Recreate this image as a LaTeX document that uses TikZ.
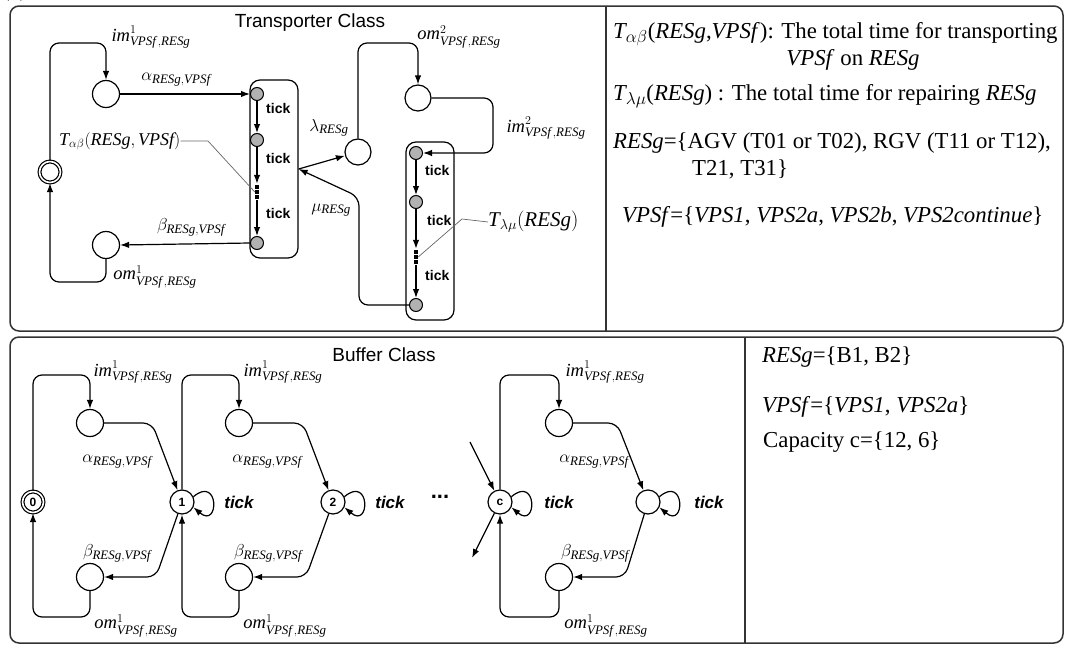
\documentclass[tikz,border=0pt]{standalone}
\usepackage{fontspec}
\usepackage{amsmath}
\setmainfont{Liberation Serif}
\setsansfont{Liberation Sans}
\usetikzlibrary{arrows.meta,calc}
\newcommand\Vf{\textit{VPSf}}
\newcommand\Rg{\textit{RESg}}
\newcommand\IMl[1]{$\textit{im}^{#1}_{\Vf\,,\Rg}$}
\newcommand\OMl[1]{$\textit{om}^{#1}_{\Vf\,,\Rg}$}
\newcommand\ALl{$\alpha_{\Rg,\Vf}$}
\newcommand\BEl{$\beta_{\Rg,\Vf}$}
\newcommand\selfloop[1]{\draw[conn] (#1.25) .. controls +(26,-22) and +(26,22) .. (#1.-25);}
\newcommand\sqdots[1]{\foreach \k in {-5,0,5} \fill ($(#1)+(-1.6,\k-1.6)$) rectangle +(3.2,3.2);}
\tikzset{
  panel/.style={draw=black!80, line width=1.5pt, rounded corners=9pt},
  divider/.style={draw=black!80, line width=1.5pt},
  conn/.style={line width=1.2pt, -{Latex[length=9pt,width=6.5pt]}},
  rc/.style={rounded corners=9pt},
  place/.style={circle, draw, line width=1.2pt, minimum size=27pt, inner sep=0pt, fill=white},
  gdot/.style={circle, draw, line width=1pt, fill=black!30, minimum size=13pt, inner sep=0pt},
  state/.style={circle, draw, line width=1.2pt, minimum size=24pt, inner sep=0pt, fill=white,
    font=\sffamily\bfseries\fontsize{12}{12}\selectfont},
  initst/.style={state, double, double distance=1.6pt, minimum size=21pt},
  chainbox/.style={draw, line width=1.2pt, rounded corners=10pt, minimum width=48pt, minimum height=178pt, inner sep=0pt},
  vd/.style={minimum width=4pt, minimum height=16pt, inner sep=0pt},
  lab/.style={font=\fontsize{18.5}{21}\selectfont, inner sep=0pt},
  ticklab/.style={font=\sffamily\bfseries\fontsize{14}{14}\selectfont, inner sep=0pt},
  btick/.style={font=\sffamily\bfseries\itshape\fontsize{17}{17}\selectfont, inner sep=0pt},
  titlelab/.style={font=\sffamily\fontsize{19}{19}\selectfont, inner sep=0pt},
  txt/.style={font=\fontsize{22.8}{26}\selectfont, inner sep=0pt},
  leader/.style={draw=black!60, line width=0.7pt}
}
\begin{document}
\begin{tikzpicture}[x=1pt,y=-1pt]
\useasboundingbox (0,0) rectangle (1065,645);
\begin{scope}
\clip (0,0) rectangle (1065,645);
\node[txt, anchor=base west] (fig) at (2,-3) {(a)};
\end{scope}
% panels
\draw[panel] (10,6) rectangle (1063,331);
\draw[divider] (606,6) -- (606,331);
\draw[panel] (10,337) rectangle (1063,643);
\draw[divider] (745,337) -- (745,643);
% ================= Transporter class =================
\node[titlelab] (tt) at (310,23) {Transporter Class};
\node[initst] (I) at (50,172) {};
\node[place] (P1) at (106,94) {};
\node[place] (P2) at (106,245) {};
\node[chainbox] (A) at (274,169) {};
\node[gdot] (g1) at (257,94) {};
\node[gdot] (g2) at (257,140) {};
\node[vd] (v1) at (257,192) {};
\node[gdot] (g4) at (257,243) {};
\sqdots{v1}
\draw[conn] (g1) -- (g2);
\draw[conn] (g2) -- (v1.north);
\draw[conn] (v1.south) -- (g4);
\node[ticklab, anchor=west] at (266,108) {tick};
\node[ticklab, anchor=west] at (266,158) {tick};
\node[ticklab, anchor=west] at (266,213) {tick};
\draw[conn, rc] (I.north) |- (106,43) -- (P1.north);
\draw[conn] (P1.east) -- (g1.west);
\draw[conn] (g4.west) -- (P2.east);
\draw[conn, rc] (P2.south) |- (50,282) -- (I.south);
\node[lab] (lim1) at (151,37) {\IMl{1}};
\node[lab] (lal) at (176,80) {\ALl};
\node[lab] (lbe) at (191,227) {\BEl};
\node[lab] (lom1) at (155,277) {\OMl{1}};
\node[lab, font=\fontsize{18}{20}\selectfont, anchor=west] (Tab) at (59,141) {$\textit{T}_{\alpha\beta}(\Rg,\Vf)$};
\draw[leader] (Tab.east) -- (208,141) -- (v1.west);
% repair part
\node[place, minimum size=26pt] (L) at (358,152) {};
\node[place, minimum size=26pt] (Q) at (418,98) {};
\node[chainbox] (B) at (430,231) {};
\node[gdot] (r1) at (416,153) {};
\node[gdot] (r2) at (416,202) {};
\node[vd] (v2) at (416,257) {};
\node[gdot] (r4) at (416,305) {};
\sqdots{v2}
\draw[conn] (r1) -- (r2);
\draw[conn] (r2) -- (v2.north);
\draw[conn] (v2.south) -- (r4);
\node[ticklab, anchor=west] at (425,170) {tick};
\node[ticklab, anchor=west] at (427,220) {tick};
\node[ticklab, anchor=west] at (425,275) {tick};
\draw[conn] (A.east) -- (L);
\draw[conn, rc] (r4.west) -- (359,305) -- (359,197) -- (A.east);
\draw[conn, rc] (L.north) |- (418,43) -- (Q.north);
\draw[conn, rc] (Q.east) -| (493,153) -- (r1.east);
\node[lab] (llam) at (329,128) {$\lambda_{\Rg}$};
\node[lab] (lmu) at (331,210) {$\mu_{\Rg}$};
\node[lab] (lom2) at (459,37) {\OMl{2}};
\node[lab] (lim2) at (546,128) {\IMl{2}};
\node[lab, font=\fontsize{21}{24}\selectfont, anchor=west] (Tlm) at (488,222) {$\textit{T}_{\lambda\mu}(\Rg)$};
\draw[leader] (Tlm.west) -- (462,219) -- (v2.east);
% right text
\node[txt, anchor=base west] (t1) at (613,38) {$\textit{T}_{\alpha\beta}$(\Rg,\Vf): The total time for transporting};
\node[txt, anchor=base] (t2) at (853,65) {\Vf{} on \Rg};
\node[txt, anchor=base west] (t3) at (613,100) {$\textit{T}_{\lambda\mu}$(\Rg) : The total time for repairing \Rg};
\node[txt, anchor=base west] (t4) at (613,148) {\Rg=\{AGV (T01 or T02), RGV (T11 or T12),};
\node[txt, anchor=base west] (t5) at (692,175) {T21, T31\}};
\node[txt, anchor=base west] (t6) at (622,222) {\Vf=\{\textit{VPS1}, \textit{VPS2a}, \textit{VPS2b}, \textit{VPS2continue}\}};
% ================= Buffer class =================
\node[titlelab] (bt) at (384,355) {Buffer Class};
\node[initst] (N0) at (33,502) {0};
\node[place] (T0) at (90,423) {};
\node[place] (B0) at (90,577) {};
\node[state] (N1) at (182,502) {1};
\node[place] (T1) at (239,423) {};
\node[place] (B1) at (239,577) {};
\node[state] (N2) at (333,502) {2};
\node[font=\sffamily\bfseries\fontsize{22}{22}\selectfont, inner sep=0pt] (ell) at (440,497) {...};
\node[state] (Nc) at (500,502) {c};
\node[place] (Tc) at (559,423) {};
\node[place] (Bc) at (559,577) {};
\node[state] (N3) at (648,502) {};
\coordinate (cin) at (470,442);
\coordinate (cout) at (472,558);
% stage 0
\draw[conn, rc] (N0.north) |- (90,375) -- (T0.north);
\draw[conn, rc] (T0.east) -- (152,423) -- (N1);
\draw[conn, rc] (N1) -- (156,577) -- (B0.east);
\draw[conn, rc] (B0.south) |- (33,617) -- (N0.south);
% stage 1
\draw[conn, rc] (N1.north) |- (239,375) -- (T1.north);
\draw[conn, rc] (T1.east) -- (303,423) -- (N2);
\draw[conn, rc] (N2) -- (306,577) -- (B1.east);
\draw[conn, rc] (B1.south) |- (182,617) -- (N1.south);
% stage c
\draw[conn] (cin) -- (Nc);
\draw[conn] (Nc) -- (cout);
\draw[conn, rc] (Nc.north) |- (559,375) -- (Tc.north);
\draw[conn, rc] (Tc.east) -- (617,423) -- (N3);
\draw[conn, rc] (N3) -- (625,577) -- (Bc.east);
\draw[conn, rc] (Bc.south) |- (500,617) -- (Nc.south);
% self loops
\selfloop{N1}
\selfloop{N2}
\selfloop{Nc}
\selfloop{N3}
\node[btick] at ($(N1)+(57,0)$) {tick};
\node[btick] at ($(N2)+(57,0)$) {tick};
\node[btick] at ($(Nc)+(59,0)$) {tick};
\node[btick] at ($(N3)+(61,0)$) {tick};
% labels
\node[lab] at (133,372) {\IMl{1}};
\node[lab] at (117,462) {\ALl};
\node[lab] at (117,553) {\BEl};
\node[lab] at (136,626) {\OMl{1}};
\node[lab] at (283,372) {\IMl{1}};
\node[lab] at (267,462) {\ALl};
\node[lab] at (268,553) {\BEl};
\node[lab] at (285,626) {\OMl{1}};
\node[lab] at (605,372) {\IMl{1}};
\node[lab] at (594,462) {\ALl};
\node[lab] at (595,553) {\BEl};
\node[lab] at (606,626) {\OMl{1}};
% right text buffer
\node[txt, anchor=base west] (b1) at (762,362) {\Rg=\{B1, B2\}};
\node[txt, anchor=base west] (b2) at (762,412) {\Vf=\{\textit{VPS1}, \textit{VPS2a}\}};
\node[txt, anchor=base west] (b3) at (763,447) {Capacity c=\{12, 6\}};
\end{tikzpicture}
\end{document}
